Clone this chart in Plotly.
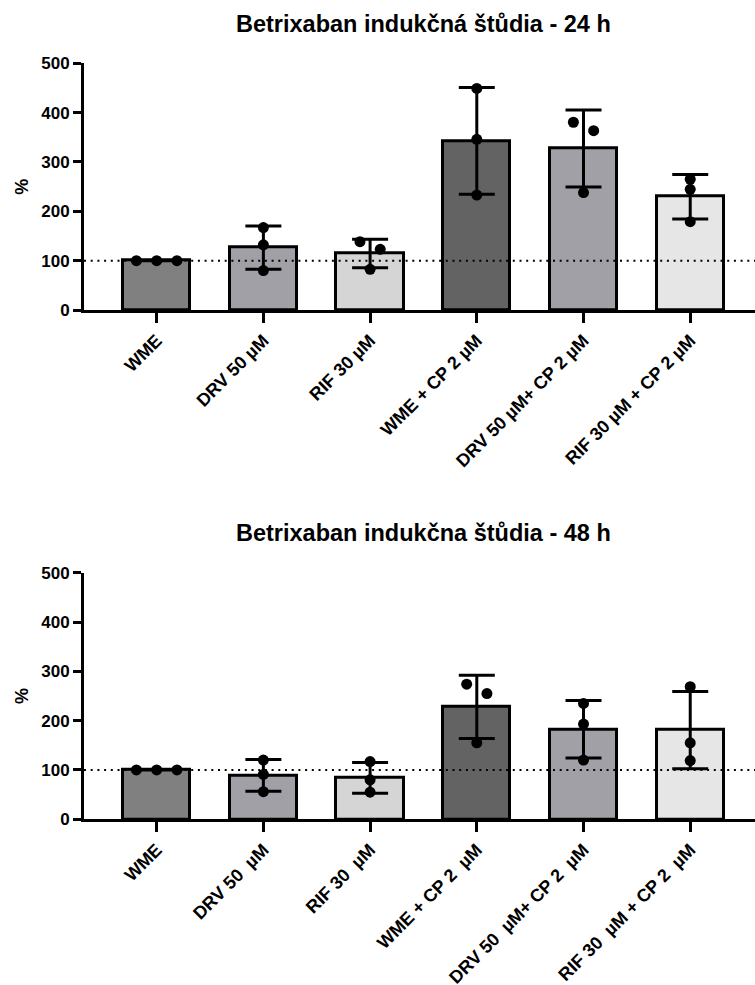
import numpy as np
import plotly.graph_objects as go

# Treatment groups (x axis tick labels) for the two time points
categories_24h = ["WME", "DRV 50 µM", "RIF 30 µM", "WME + CP 2 µM",
                  "DRV 50 µM+ CP 2 µM", "RIF 30 µM + CP 2 µM"]
categories_48h = ["WME", "DRV 50\u00a0 µM", "RIF 30\u00a0 µM", "WME + CP 2\u00a0 µM",
                  "DRV 50\u00a0 µM+ CP 2\u00a0 µM", "RIF 30\u00a0 µM + CP 2\u00a0 µM"]

# Individual replicate values (% of control)
replicates_24h = [
    [100, 100, 100],
    [167, 132, 80],
    [138.5, 123, 82.5],
    [449, 346, 233],
    [380.5, 363.5, 238],
    [265, 244.5, 179],
]
replicates_48h = [
    [100, 100, 100],
    [120, 91, 56],
    [117, 80, 55],
    [274, 255, 155],
    [235, 193, 120],
    [269, 155, 119],
]

titles = ["Betrixaban indukčná štůdia - 24 h", "Betrixaban indukčna štůdia - 48 h"]
y_ticks = [0, 100, 200, 300, 400, 500]
baseline = 100

bar_colors = ["#808080", "#a1a0a6", "#d5d5d5", "#636363", "#a1a0a6", "#e6e6e6"]
FONT = "Liberation Sans, Arial, sans-serif"

W, H = 755, 985
LEFT = 84
# plot-area pixel rows: (top of axis at 500, bottom at 0)
panels = [(63.3, 310.0), (572.7, 819.3)]
X_RANGE = [-0.681, 5.607]


def spread_offsets(values, step=0.19, min_gap=19.5):
    """Spread overlapping dots sideways like a column scatter plot."""
    order = np.argsort(values)[::-1]
    offsets = np.zeros(len(values))
    clusters, current = [], [order[0]]
    for a, b in zip(order[:-1], order[1:]):
        if abs(values[a] - values[b]) < min_gap:
            current.append(b)
        else:
            clusters.append(current)
            current = [b]
    clusters.append(current)
    for cl in clusters:
        n = len(cl)
        for k, idx in enumerate(cl):
            offsets[idx] = (k - (n - 1) / 2) * step
    return offsets


fig = go.Figure()
datasets = [(categories_24h, replicates_24h), (categories_48h, replicates_48h)]

for p, (cats, reps) in enumerate(datasets):
    xa = "x" if p == 0 else "x2"
    ya = "y" if p == 0 else "y2"
    arr = [np.array(r, dtype=float) for r in reps]
    means = [a.mean() for a in arr]
    sds = [a.std(ddof=1) for a in arr]
    xs = list(range(len(cats)))

    fig.add_trace(go.Bar(
        x=xs, y=means, width=0.63, xaxis=xa, yaxis=ya,
        marker=dict(color=bar_colors, line=dict(color="black", width=3)),
        error_y=dict(type="data", array=sds, visible=True, symmetric=True,
                     color="black", thickness=3, width=18),
        showlegend=False, hoverinfo="skip",
    ))

    px, py = [], []
    for i, a in enumerate(arr):
        off = spread_offsets(a)
        px.extend(i + off)
        py.extend(a)
    fig.add_trace(go.Scatter(
        x=px, y=py, mode="markers", xaxis=xa, yaxis=ya,
        marker=dict(color="black", size=11),
        showlegend=False, hoverinfo="skip",
    ))

    # dotted reference line at 100 %
    fig.add_shape(type="line", xref=f"{xa} domain", yref=ya,
                  x0=0, x1=1, y0=baseline, y1=baseline, layer="above",
                  line=dict(color="black", width=2, dash="2px,4.7px"))

    top_px, bot_px = panels[p]
    dom = [1 - bot_px / H, 1 - top_px / H]
    axis_common = dict(showline=True, linewidth=3, linecolor="black",
                       ticks="outside", tickwidth=3, tickcolor="black",
                       showgrid=False, zeroline=False, automargin=False)
    fig.layout[("xaxis" if p == 0 else "xaxis2")] = dict(
        domain=[0, 1], range=X_RANGE, anchor=ya,
        tickmode="array", tickvals=xs, ticktext=cats, tickangle=-45,
        ticklen=10,
        tickfont=dict(family=FONT, size=18, color="black", weight="bold"),
        **axis_common)
    fig.layout[("yaxis" if p == 0 else "yaxis2")] = dict(
        domain=dom, range=[0, 500], anchor=xa,
        tickmode="array", tickvals=y_ticks, ticklen=8,
        tickfont=dict(family=FONT, size=17, color="black", weight="bold"),
        **axis_common)

    # panel title
    fig.add_annotation(text=titles[p], xref="paper", yref="paper",
                       x=(423.5 - LEFT) / (W - LEFT), y=1 - (top_px - 39.5) / H,
                       xanchor="center", yanchor="middle", showarrow=False,
                       font=dict(family=FONT, size=23.5, color="black", weight="bold"))
    # y axis title
    fig.add_annotation(text="%", xref="paper", yref="paper",
                       x=(22 - LEFT) / (W - LEFT), y=1 - ((top_px + bot_px) / 2) / H,
                       xanchor="center", yanchor="middle", textangle=-90,
                       showarrow=False,
                       font=dict(family=FONT, size=18, color="black", weight="bold"))

fig.update_layout(
    width=W, height=H,
    margin=dict(l=LEFT, r=0, t=0, b=0, autoexpand=False),
    paper_bgcolor="white", plot_bgcolor="white",
    bargap=0, showlegend=False,
)

fig.write_html("out.html")
